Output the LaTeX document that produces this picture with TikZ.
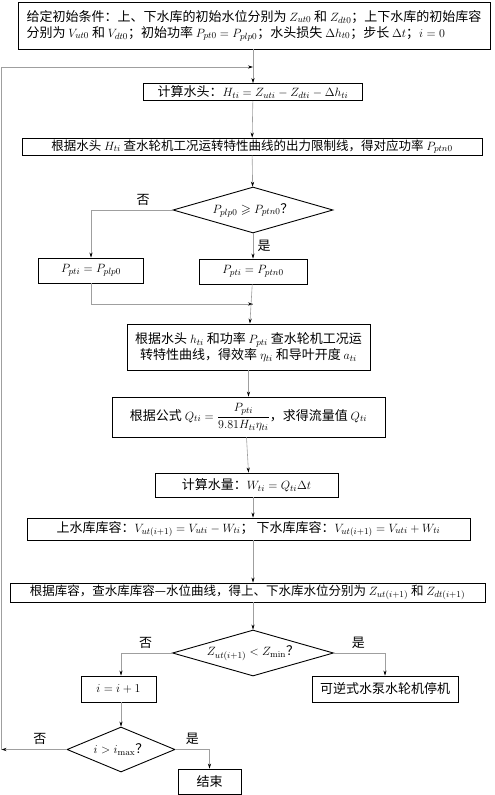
\documentclass[tikz,border=0pt]{standalone}
\usepackage{amsmath,amssymb}
\usepackage[no-math]{fontspec}
\setmainfont{Noto Sans CJK SC}
\usetikzlibrary{shapes.geometric,arrows.meta}

\newcommand*{\xmid}{253}
\newcommand*{\xloop}{1.5}

\begin{document}
\begin{tikzpicture}
[
	x=1pt,y=-1pt,
	font=\fontsize{13}{16}\selectfont,
	procbox/.style={draw,line width=0.9pt,inner sep=0pt,align=center},
	widebox/.style={procbox,font=\fontsize{12.5}{16}\selectfont},
	testbox/.style={diamond,draw,line width=0.9pt,inner sep=0pt},
	conn/.style={draw=gray!75,line width=0.6pt,-{Stealth[length=5pt,width=3.2pt,black]}},
	plain/.style={draw=gray!75,line width=0.6pt}
]
	\useasboundingbox (0,0) rectangle (495,795);

	% process boxes
	\node[procbox,minimum width=472pt,minimum height=47pt,align=left] (init) at (254,25.5)
		{给定初始条件：上、下水库的初始水位分别为 $Z_{ut0}$ 和 $Z_{dt0}$；上下水库的初始库容\\
		 分别为 $V_{ut0}$ 和 $V_{dt0}$；初始功率 $P_{pt0}=P_{plp0}$；水头损失 $\Delta h_{t0}$；步长 $\Delta t$；$i=0$};
	\node[procbox,minimum width=219pt,minimum height=17pt] (head) at (\xmid,92)
		{计算水头：$H_{ti}=Z_{uti}-Z_{dti}-\Delta h_{ti}$};
	\node[widebox,minimum width=460pt,minimum height=17pt] (limit) at (252,146.5)
		{根据水头 $H_{ti}$ 查水轮机工况运转特性曲线的出力限制线，得对应功率 $P_{ptn0}$};

	% first test
	\node[testbox,minimum width=160pt,minimum height=46pt,aspect=3.48] (testp) at (\xmid,210)
		{$P_{plp0}\geqslant P_{ptn0}$？};
	\node[procbox,minimum width=105pt,minimum height=25pt] (pno) at (91,270.5)
		{$P_{pti}=P_{plp0}$};
	\node[procbox,minimum width=108pt,minimum height=25pt] (pyes) at (\xmid,271.5)
		{$P_{pti}=P_{ptn0}$};
	\coordinate (merge) at (\xmid,304);

	% efficiency and flow
	\node[procbox,minimum width=243pt,minimum height=46pt] (eff) at (248.5,347)
		{根据水头 $h_{ti}$ 和功率 $P_{pti}$ 查水轮机工况运\\ 转特性曲线，得效率 $\eta_{ti}$ 和导叶开度 $a_{ti}$};
	\node[procbox,minimum width=273pt,minimum height=40pt] (flow) at (248.5,417)
		{根据公式 $Q_{ti}=\dfrac{P_{pti}}{9.81H_{ti}\eta_{ti}}$，求得流量值 $Q_{ti}$};
	\node[procbox,minimum width=183pt,minimum height=24pt] (water) at (246.5,485)
		{计算水量：$W_{ti}=Q_{ti}\Delta t$};
	\node[procbox,minimum width=443pt,minimum height=22pt] (vol) at (248.5,529)
		{上水库库容：$V_{ut(i+1)}=V_{uti}-W_{ti}$； 下水库库容：$V_{ut(i+1)}=V_{uti}+W_{ti}$};
	\node[widebox,minimum width=475pt,minimum height=19pt] (level) at (247.5,592.5)
		{根据库容，查水库库容—水位曲线，得上、下水库水位分别为 $Z_{ut(i+1)}$ 和 $Z_{dt(i+1)}$};

	% second test
	\node[testbox,minimum width=161pt,minimum height=46pt,aspect=3.5] (testz) at (\xmid,653)
		{$Z_{ut(i+1)}<Z_{\min}$？};
	\node[procbox,minimum width=75pt,minimum height=26pt] (incr) at (118.5,689)
		{$i=i+1$};
	\node[procbox,minimum width=146pt,minimum height=26pt] (stop) at (385,689)
		{可逆式水泵水轮机停机};

	% third test
	\node[testbox,minimum width=108pt,minimum height=45pt,aspect=2.4] (testi) at (121,749.5)
		{$i>i_{\max}$？};
	\node[procbox,minimum width=63pt,minimum height=25pt] (end) at (209.5,781.5)
		{结束};

	% connectors
	\draw[conn] (init.south -| head.north) -- (head.north);
	\draw[conn] (head) -- (limit);
	\draw[conn] (limit) -- (testp);
	\draw[conn] (testp.west) -| (pno.north) node[pos=0.18,above=1pt] {否};
	\draw[conn] (testp) -- (pyes) node[midway,right=1pt] {是};
	\draw[plain] (pno.south) |- (merge);
	\draw[conn] ([xshift=-20pt]merge) -- (merge);
	\draw[conn] (pyes) -- (eff);
	\draw[conn] (eff.south -| flow.north) -- (flow.north -| eff.south);
	\draw[conn] (flow.south -| water.north) -- (water.north -| flow.south);
	\draw[conn] (water.south -| \xmid,0) -- (vol.north -| \xmid,0);
	\draw[conn] (vol.south -| \xmid,0) -- (level.north -| \xmid,0);
	\draw[conn] (level.south -| \xmid,0) -- (testz);
	\draw[conn] (testz.west) -| (incr.north -| 121,0) node[pos=0.26,above=1pt] {否};
	\draw[conn] (testz.east) -| (stop.north) node[pos=0.24,above=1pt] {是};
	\draw[conn] (incr.south -| testi.north) -- (testi.north);
	\draw[conn] (testi.east) -| (end.north) node[pos=0.25,above=1pt] {是};

	% loop back
	\coordinate (loopend) at (\xloop,749.5);
	\coordinate (loopin) at (\xmid,67);
	\draw[conn] (testi.west) -- (loopend) node[pos=0.41,above=1pt] {否};
	\draw[conn] (loopend) -- (\xloop,67) -- (loopin);

\end{tikzpicture}
\end{document}
